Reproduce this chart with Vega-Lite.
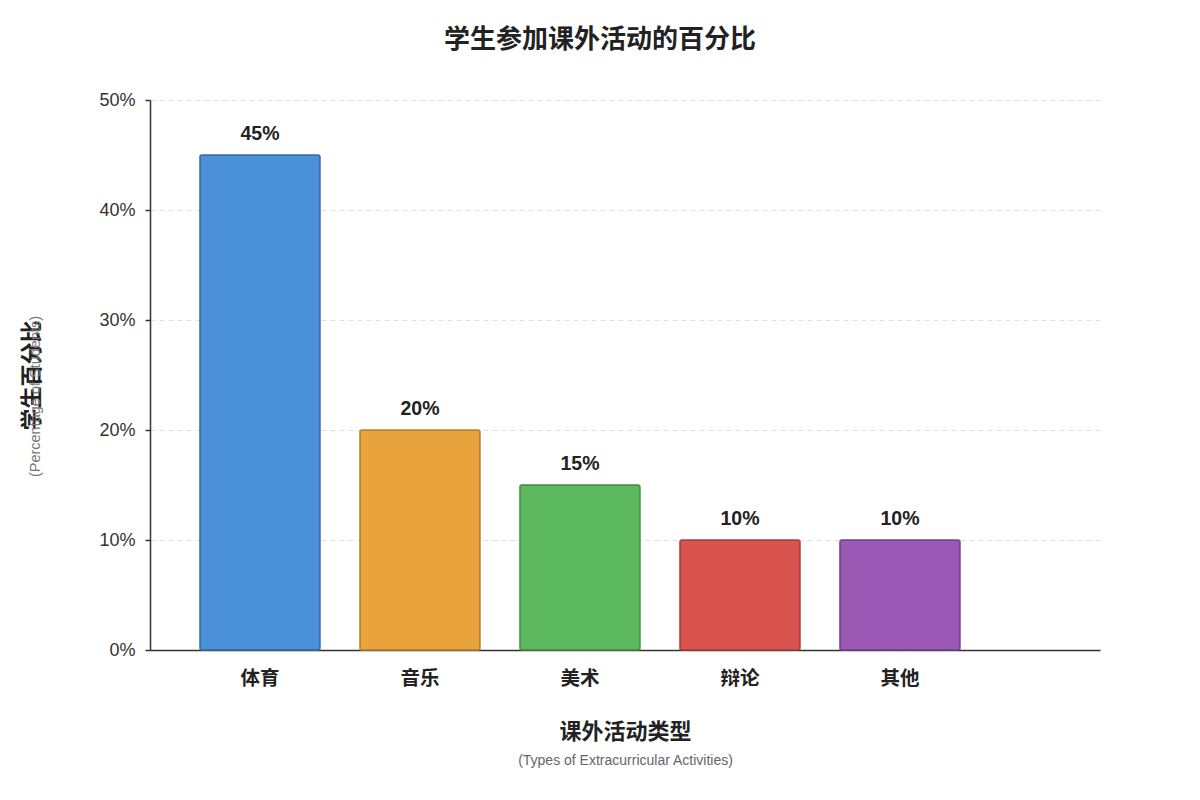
{
  "$schema": "https://vega.github.io/schema/vega-lite/v6.json",
  "width": 950,
  "height": 550,
  "autosize": {"type": "none"},
  "padding": {"left": 150, "top": 100, "right": 100, "bottom": 150},
  "background": "white",
  "config": {
    "view": {"stroke": null},
    "font": "Liberation Sans, Noto Sans CJK SC, sans-serif"
  },
  "title": {
    "text": "学生参加课外活动的百分比",
    "fontSize": 26,
    "fontWeight": "bold",
    "color": "#222222",
    "font": "Liberation Sans, Noto Sans CJK SC, sans-serif",
    "anchor": "middle",
    "frame": "group",
    "dx": -25,
    "offset": 38
  },
  "data": {
    "values": [
      {"activity": "体育", "pct": 0.45, "label": "45%"},
      {"activity": "音乐", "pct": 0.20, "label": "20%"},
      {"activity": "美术", "pct": 0.15, "label": "15%"},
      {"activity": "辩论", "pct": 0.10, "label": "10%"},
      {"activity": "其他", "pct": 0.10, "label": "10%"}
    ]
  },
  "resolve": {"axis": {"x": "independent", "y": "independent"}},
  "layer": [
    {
      "mark": {"type": "bar", "cornerRadius": 2, "strokeWidth": 1.5},
      "encoding": {
        "x": {
          "field": "activity",
          "type": "nominal",
          "sort": null,
          "scale": {"paddingInner": 0.25, "paddingOuter": 0.59375, "align": 0.263},
          "axis": {
            "orient": "bottom",
            "title": "课外活动类型",
            "titleFontSize": 22,
            "titleFontWeight": "bold",
            "titleColor": "#222222",
            "titlePadding": 34,
            "labelFontSize": 19.5,
            "labelFontWeight": "bold",
            "labelColor": "#222222",
            "labelAngle": 0,
            "labelPadding": 19,
            "ticks": false,
            "tickSize": 0,
            "domainColor": "#333333",
            "domainWidth": 1.5,
            "grid": false
          }
        },
        "y": {
          "field": "pct",
          "type": "quantitative",
          "scale": {"domain": [0, 0.5], "nice": false},
          "axis": {
            "orient": "left",
            "title": "学生百分比",
            "titleFontSize": 22,
            "titleFontWeight": "bold",
            "titleColor": "#222222",
            "titlePadding": 55,
            "values": [0, 0.1, 0.2, 0.3, 0.4, 0.5],
            "format": ".0%",
            "labelFontSize": 18,
            "labelColor": "#333333",
            "labelPadding": 10,
            "tickSize": 5,
            "tickColor": "#333333",
            "tickWidth": 1.5,
            "domainColor": "#333333",
            "domainWidth": 1.5,
            "grid": true,
            "gridColor": "#e0e0e0",
            "gridDash": [5, 4],
            "gridWidth": 1
          }
        },
        "color": {
          "field": "activity",
          "type": "nominal",
          "sort": null,
          "scale": {
            "domain": ["体育", "音乐", "美术", "辩论", "其他"],
            "range": ["#4a90d9", "#e8a33d", "#5cb85c", "#d9534f", "#9b59b6"]
          },
          "legend": null
        },
        "stroke": {
          "field": "activity",
          "type": "nominal",
          "sort": null,
          "scale": {
            "domain": ["体育", "音乐", "美术", "辩论", "其他"],
            "range": ["#3a6ea5", "#b8832f", "#458f45", "#a8403d", "#784390"]
          },
          "legend": null
        }
      }
    },
    {
      "mark": {
        "type": "text",
        "fontSize": 19.5,
        "fontWeight": "bold",
        "color": "#222222",
        "baseline": "alphabetic",
        "dy": -15
      },
      "encoding": {
        "x": {
          "field": "activity",
          "type": "nominal",
          "sort": null,
          "axis": {
            "orient": "bottom",
            "title": "(Types of Extracurricular Activities)",
            "titleFontSize": 14,
            "titleFontWeight": "normal",
            "titleColor": "#666666",
            "titlePadding": 103,
            "labels": false,
            "ticks": false,
            "domain": false,
            "grid": false
          }
        },
        "y": {
          "field": "pct",
          "type": "quantitative",
          "axis": {
            "orient": "left",
            "title": "(Percentage of Students)",
            "titleFontSize": 14.5,
            "titleFontWeight": "normal",
            "titleColor": "#777777",
            "titlePadding": 108,
            "titleY": 296,
            "labels": false,
            "ticks": false,
            "domain": false,
            "grid": false
          }
        },
        "text": {"field": "label"}
      }
    }
  ]
}
